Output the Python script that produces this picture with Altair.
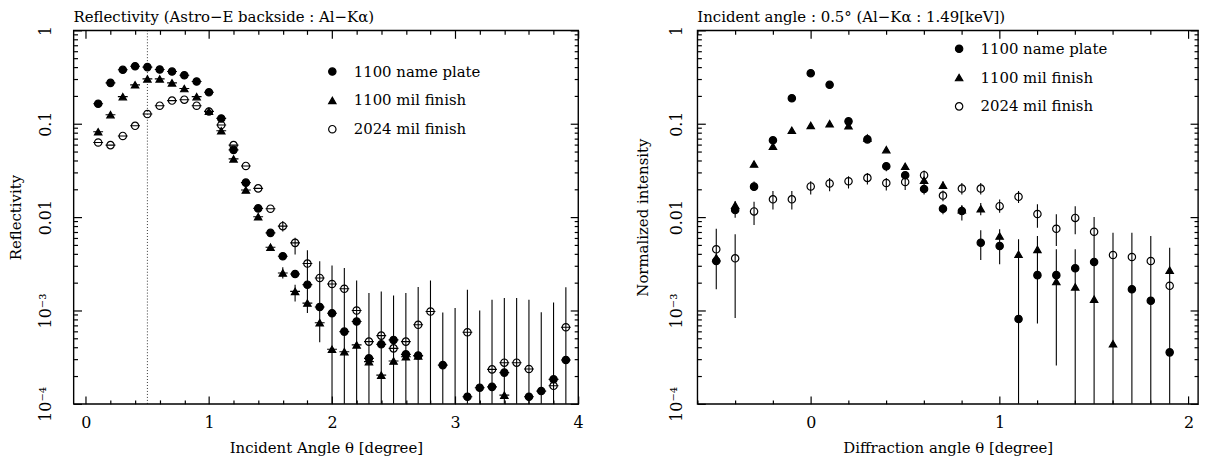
import altair as alt
import pandas as pd

FONT = "DejaVu Serif"
SERIES = ["1100 name plate", "1100 mil finish", "2024 mil finish"]

# ---------------- left panel: reflectivity vs incident angle ----------------
L_ANGLE = [0.1, 0.2, 0.3, 0.4, 0.5, 0.6, 0.7, 0.8, 0.9, 1.0,
           1.1, 1.2, 1.3, 1.4, 1.5, 1.6, 1.7, 1.8, 1.9, 2.0,
           2.1, 2.2, 2.3, 2.4, 2.5, 2.6, 2.7, 2.8, 2.9, 3.0,
           3.1, 3.2, 3.3, 3.4, 3.5, 3.6, 3.7, 3.8, 3.9]
L_NAME_PLATE = [0.164, 0.274, 0.378, 0.413, 0.404, 0.381, 0.362, 0.331, 0.283, 0.217,
                0.114, 0.0525, 0.0234, 0.0124, 0.00678, 0.00381, 0.00246, 0.00189, 0.00109, 0.000935,
                0.000594, 0.000762, 0.000307, 0.000434, 0.000484, 0.000339, 0.00033, None, 0.00026, None,
                0.000119, 0.000149, 0.000152, 0.000216, None, 0.000119, 0.000137, 0.000183, 0.000295]
L_MIL_1100 = [0.082, 0.125, 0.195, 0.261, 0.302, 0.302, 0.274, 0.238, 0.195, 0.136,
              0.084, 0.042, 0.0195, 0.0101, 0.00476, 0.00252, 0.0016, 0.0012, 0.00074, 0.000384,
              0.000362, 0.000428, 0.000283, 0.000203, 0.000288, 0.00032, 0.000326, None, None, None,
              None, None, None, 0.000124, None, None, None, None, None]
L_MIL_2024 = [0.063, 0.059, 0.074, 0.095, 0.127, 0.156, 0.177, 0.181, 0.156, 0.135,
              0.097, 0.059, 0.0353, 0.0203, 0.0123, 0.0080, 0.0053, 0.00318, 0.00223, 0.00192,
              0.00171, 0.001, 0.000464, 0.000538, 0.000393, 0.000464, 0.000702, 0.000976, None, None,
              0.000585, None, 0.000234, 0.000276, 0.000276, 0.000236, None, 0.000156, 0.000661]
# vertical error bars (1e-5 = runs below the axis)
L_EB_X = [1.6, 1.6, 1.7, 1.7, 1.8, 1.9, 2.0, 2.1, 2.2, 2.3, 2.4, 2.5, 2.6, 2.7, 2.8, 2.9,
          3.0, 3.1, 3.2, 3.3, 3.4, 3.5, 3.6, 3.7, 3.8, 3.9]
L_EB_LO = [0.0070, 0.0022, 0.00397, 0.00125, 0.00094, 0.000457, 1e-5, 1e-5, 1e-5, 1e-5, 1e-5, 1e-5,
           1e-5, 1e-5, 1e-5, 1e-5, 1e-5, 1e-5, 1e-5, 1e-5, 1e-5, 1e-5, 1e-5, 1e-5, 1e-5, 1e-5]
L_EB_HI = [0.0091, 0.0029, 0.0060, 0.00189, 0.00442, 0.00336, 0.00303, 0.00285, 0.0021, 0.00154,
           0.0016, 0.00145, 0.00154, 0.00178, 0.0021, 0.00095, 0.00106, 0.00167, 0.001, 0.0013,
           0.00136, 0.00136, 0.0013, 0.00096, 0.00122, 0.00177]
L_XERR = 0.04
INCIDENT_ANGLE = 0.5

# ---------------- right panel: normalized intensity vs diffraction angle ----------------
R_ANGLE = [-0.5, -0.4, -0.3, -0.2, -0.1, 0.0, 0.1, 0.2, 0.3, 0.4,
           0.5, 0.6, 0.7, 0.8, 0.9, 1.0, 1.1, 1.2, 1.3, 1.4,
           1.5, 1.6, 1.7, 1.8, 1.9]
R_NAME_PLATE = [0.00339, 0.0119, 0.0212, 0.0664, 0.1876, 0.347, 0.261, 0.106, 0.068, 0.035,
                0.0281, 0.020, 0.0123, 0.0116, 0.00532, 0.0049, 0.00081, 0.00239, 0.00239, 0.00283,
                0.00331, None, 0.00169, 0.00127, 0.000356]
R_MIL_1100 = [0.00368, 0.0134, 0.037, 0.0573, 0.085, 0.096, 0.1, 0.095, 0.0702, 0.0528,
              0.035, 0.0248, 0.022, 0.012, 0.0123, 0.00627, 0.004, 0.0045, 0.00204, 0.00179,
              0.00132, 0.00044, None, None, 0.0027]
R_MIL_2024 = [0.00452, 0.00362, 0.0115, 0.0155, 0.0155, 0.0213, 0.0229, 0.0242, 0.0263, 0.0232,
              0.0238, 0.0281, 0.017, 0.0202, 0.0202, 0.0131, 0.0165, 0.0108, 0.0075, 0.0098,
              0.00697, 0.00393, 0.00374, 0.00339, 0.00184]
R_EB_X = [-0.5, -0.4, -0.4, -0.3, -0.3, -0.2, -0.1, 0.0, 0.1, 0.2, 0.3, 0.4, 0.4, 0.5, 0.6,
          0.7, 0.7, 0.7, 0.8, 0.8, 0.9, 0.9, 0.9, 1.0, 1.0, 1.1, 1.1, 1.2, 1.2, 1.3, 1.3,
          1.4, 1.4, 1.5, 1.6, 1.7, 1.8, 1.9]
R_EB_LO = [0.00169, 0.00083, 0.00983, 0.00822, 0.019, 0.0121, 0.0121, 0.01746, 0.0189, 0.0202,
           0.0223, 0.0193, 0.031, 0.0195, 0.0175, 0.0148, 0.0107, 0.020, 0.0175, 0.00922,
           0.0175, 0.0105, 0.00348, 0.0111, 0.00313, 0.0142, 1e-5, 0.00769, 0.000726, 0.0049,
           0.000257, 0.00654, 1e-5, 1e-5, 1e-5, 1e-5, 1e-5, 1e-5]
R_EB_HI = [0.0075, 0.00654, 0.0148, 0.01456, 0.024, 0.019, 0.019, 0.0242, 0.0263, 0.0274,
           0.0297, 0.0263, 0.039, 0.027, 0.0315, 0.0193, 0.0137, 0.024, 0.0232, 0.0134,
           0.0232, 0.0142, 0.00721, 0.01545, 0.0074, 0.019, 0.00578, 0.0137, 0.00627, 0.0107,
           0.00452, 0.0131, 0.00452, 0.01, 0.0068, 0.0068, 0.00627, 0.0047]

Y_TICKS = [m * 10.0 ** e for e in range(-4, 0) for m in range(1, 10)] + [1.0]
L_X_TICKS = [0.0, 0.2, 0.4, 0.6, 0.8, 1.0, 1.2, 1.4, 1.6, 1.8, 2.0, 2.2, 2.4, 2.6, 2.8,
             3.0, 3.2, 3.4, 3.6, 3.8, 4.0]
R_X_TICKS = [-0.6, -0.4, -0.2, 0.0, 0.2, 0.4, 0.6, 0.8, 1.0, 1.2, 1.4, 1.6, 1.8, 2.0]


def long_df(x, arrays):
    rows = []
    for name, arr in zip(SERIES, arrays):
        for xv, yv in zip(x, arr):
            if yv is not None:
                rows.append({"angle": xv, "value": yv, "series": name})
    return pd.DataFrame(rows)


X_MAJOR = "abs(datum.value - round(datum.value)) < 0.001"
Y_MAJOR = "abs(log(datum.value) / LN10 - round(log(datum.value) / LN10)) < 0.001"
X_LABEL_EXPR = f"({X_MAJOR}) ? '' + round(datum.value) : ''"
Y_LABEL_EXPR = (f"!({Y_MAJOR}) ? '' : datum.value > 0.5 ? '1' : datum.value > 0.05 ? '0.1' : "
                "datum.value > 0.005 ? '0.01' : datum.value > 0.0005 ? '10\u207b\u00b3' : '10\u207b\u2074'")
TICK = dict(ticks=True, tickColor="black", tickWidth=1.2, tickSize=8, domain=False, grid=False)


def x_axis_main(values, title, H):
    # sits on the top edge (ticks point inward); labels pushed below the bottom edge
    return alt.Axis(orient="bottom", offset=-H, values=values,
                    tickDash={"condition": {"test": X_MAJOR, "value": [20, 1]}, "value": [4, 20]},
                    labelExpr=X_LABEL_EXPR, labelFont=FONT, labelFontSize=16, labelColor="black",
                    labelPadding=H + 3, labelFlush=False, labelOverlap=False, labelBound=False,
                    maxExtent=2000, title=title, titleFont=FONT, titleFontSize=15,
                    titleFontWeight="normal", titleColor="black", titlePadding=10, **TICK)


def y_axis_main(title, W, gap, tpad):
    # sits on the right edge (ticks point inward); labels pushed left of the left edge
    return alt.Axis(orient="left", offset=-W, values=Y_TICKS,
                    tickDash={"condition": {"test": Y_MAJOR, "value": [20, 1]}, "value": [4, 20]},
                    labelExpr=Y_LABEL_EXPR, labelAngle=270, labelAlign="center", labelBaseline="bottom",
                    labelFont=FONT, labelFontSize=16, labelColor="black", labelPadding=W + gap - 8,
                    labelFlush=False, labelOverlap=False, labelBound=False, maxExtent=2000,
                    title=title, titleFont=FONT, titleFontSize=15, titleFontWeight="normal",
                    titleColor="black", titlePadding=tpad, **TICK)


def tick_axis(orient, offset, values, test):
    return alt.Axis(orient=orient, offset=offset, values=values, labels=False, title=None,
                    tickDash={"condition": {"test": test, "value": [20, 1]}, "value": [4, 20]}, **TICK)


def legend(x, y):
    return alt.Legend(orient="none", legendX=x, legendY=y, title=None, labelFont=FONT, labelFontSize=15,
                      labelColor="black", symbolSize=55, symbolStrokeWidth=1.2,
                      rowPadding=13, labelOffset=14, padding=0)


def panel(df_pts, df_eb, xdom, W, H, xticks, xtitle, ytitle, gap, tpad, title, leg, extra=None, hbars=False):
    xs = alt.Scale(domain=xdom, nice=False, zero=False)
    ys = alt.Scale(type="log", domain=[1e-4, 1.0], nice=False)
    ebar = alt.Chart(df_eb).mark_rule(color="black", strokeWidth=1.1, clip=True).encode(
        x=alt.X("angle:Q", scale=xs, axis=x_axis_main(xticks, xtitle, H)),
        y=alt.Y("lo:Q", scale=ys, axis=y_axis_main(ytitle, W, gap, tpad)),
        y2="hi:Q",
    )
    pts = alt.Chart(df_pts).mark_point(size=55, strokeWidth=1.2, opacity=1, clip=True).encode(
        x=alt.X("angle:Q", scale=xs, axis=tick_axis("top", -H, xticks, X_MAJOR)),
        y=alt.Y("value:Q", scale=ys, axis=tick_axis("right", -W, Y_TICKS, Y_MAJOR)),
        shape=alt.Shape("series:N", scale=alt.Scale(domain=SERIES, range=["circle", "triangle-up", "circle"]),
                        legend=leg),
        fill=alt.Fill("series:N", scale=alt.Scale(domain=SERIES, range=["black", "black", "transparent"]),
                      legend=leg),
        stroke=alt.Stroke("series:N", scale=alt.Scale(domain=SERIES, range=["black", "black", "black"]),
                          legend=leg),
    )
    layers = [ebar, pts]
    if hbars:
        layers.append(alt.Chart(df_pts).transform_calculate(
            x1=f"datum.angle - {L_XERR}", x2=f"datum.angle + {L_XERR}"
        ).mark_rule(color="black", strokeWidth=1.1, clip=True).encode(
            x=alt.X("x1:Q", scale=xs, axis=None),
            x2="x2:Q",
            y=alt.Y("value:Q", scale=ys, axis=None),
        ))
    if extra is not None:
        layers.append(extra(xs))
    return alt.layer(*layers).resolve_axis(x="independent", y="independent").properties(
        width=W, height=H,
        title=alt.TitleParams(text=title, anchor="start", frame="group", font=FONT, fontSize=15,
                              fontWeight="normal", color="black", offset=0),
    )


df_left = long_df(L_ANGLE, [L_NAME_PLATE, L_MIL_1100, L_MIL_2024])
df_left_eb = pd.DataFrame({"angle": L_EB_X, "lo": L_EB_LO, "hi": L_EB_HI})
df_right = long_df(R_ANGLE, [R_NAME_PLATE, R_MIL_1100, R_MIL_2024])
df_right_eb = pd.DataFrame({"angle": R_EB_X, "lo": R_EB_LO, "hi": R_EB_HI})


def dotted(xs):
    return alt.Chart(pd.DataFrame({"angle": [INCIDENT_ANGLE]})).mark_rule(
        color="black", strokeWidth=0.8, strokeDash=[1, 2]
    ).encode(x=alt.X("angle:Q", scale=xs, axis=None))


left = panel(df_left, df_left_eb, [-0.1, 4.0], 508, 376, L_X_TICKS,
             "Incident Angle \u03b8 [degree]", "Reflectivity", 20, 14,
             "Reflectivity (Astro\u2212E backside : Al\u2212K\u03b1)", legend(253, 34),
             extra=dotted, hbars=True)
right = panel(df_right, df_right_eb, [-0.6, 2.05], 504, 376, R_X_TICKS,
              "Diffraction angle \u03b8 [degree]", "Normalized intensity", 13, 18,
              "Incident angle : 0.5\u00b0 (Al\u2212K\u03b1 : 1.49[keV])", legend(256, 11))

chart = alt.hconcat(left, right, spacing=51).resolve_scale(
    shape="independent", fill="independent", stroke="independent"
).resolve_legend(
    shape="independent", fill="independent", stroke="independent"
).properties(
    padding={"left": 0, "top": 0, "right": 0, "bottom": 0}
).configure(font=FONT).configure_view(stroke="black", strokeWidth=1.4)

chart.save("out.html", embed_options={"renderer": "svg", "actions": False})
